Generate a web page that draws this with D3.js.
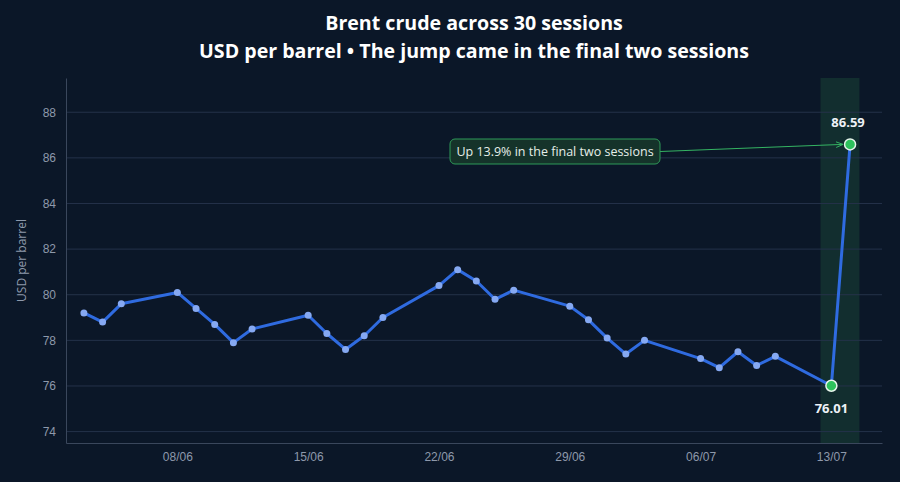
<!DOCTYPE html>
<html lang="en">
<head>
<meta charset="utf-8">
<title>Brent crude</title>
<script src="https://cdn.jsdelivr.net/npm/d3@7"></script>
<style>
  html, body { margin: 0; padding: 0; background: #0b1728; }
  svg { display: block; font-family: "Open Sans", "Noto Sans", sans-serif; }
</style>
</head>
<body>
<div id="chart"></div>
<script>

// session dates (dd/mm/yyyy) and closing prices
var dates = [
  "03/06/2026","04/06/2026","05/06/2026",
  "08/06/2026","09/06/2026","10/06/2026","11/06/2026","12/06/2026",
  "15/06/2026","16/06/2026","17/06/2026","18/06/2026","19/06/2026",
  "22/06/2026","23/06/2026","24/06/2026","25/06/2026","26/06/2026",
  "29/06/2026","30/06/2026","01/07/2026","02/07/2026","03/07/2026",
  "06/07/2026","07/07/2026","08/07/2026","09/07/2026","10/07/2026",
  "13/07/2026","14/07/2026"
];
var prices = [
  79.2, 78.8, 79.6,
  80.1, 79.4, 78.7, 77.9, 78.5,
  79.1, 78.3, 77.6, 78.2, 79.0,
  80.4, 81.1, 80.6, 79.8, 80.2,
  79.5, 78.9, 78.1, 77.4, 78.0,
  77.2, 76.8, 77.5, 76.9, 77.3,
  76.01, 86.59
];
var yTicks = [74, 76, 78, 80, 82, 84, 86, 88];
var xTicks = ["08/06/2026", "15/06/2026", "22/06/2026", "29/06/2026", "06/07/2026", "13/07/2026"];
var annotationText = "Up 13.9% in the final two sessions";

var W = 900, H = 482;
var margin = {top: 78, right: 18, bottom: 39, left: 66};
var width = W - margin.left - margin.right,
    height = H - margin.top - margin.bottom;

var parse = d3.timeParse("%d/%m/%Y");
var data = dates.map(function(d, i) { return {date: parse(d), price: prices[i]}; });

var svg = d3.select("#chart").append("svg")
    .attr("width", W).attr("height", H);

svg.append("rect").attr("width", W).attr("height", H).attr("fill", "#0b1728");

var g = svg.append("g")
    .attr("transform", "translate(" + margin.left + "," + margin.top + ")");

// scales
var first = data[0].date, last = data[data.length - 1].date;
var x = d3.scaleTime()
    .domain([d3.timeHour.offset(first, -23), d3.timeHour.offset(last, 41)])
    .range([0, width]);
var y = d3.scaleLinear()
    .domain([73.5, 89.5])
    .range([height, 0]);

// highlight band over the last two sessions
var a = data[data.length - 2], b = data[data.length - 1];
g.append("rect")
    .attr("x", x(d3.timeHour.offset(a.date, -14)))
    .attr("y", 0)
    .attr("width", x(d3.timeHour.offset(b.date, 12)) - x(d3.timeHour.offset(a.date, -14)))
    .attr("height", height)
    .attr("fill", "#1f5a3c")
    .attr("fill-opacity", 0.35);

// gridlines
g.append("g")
  .selectAll("line")
  .data(yTicks)
  .enter().append("line")
    .attr("x1", 0).attr("x2", width)
    .attr("y1", function(d) { return y(d); })
    .attr("y2", function(d) { return y(d); })
    .attr("stroke", "#24324a")
    .attr("stroke-width", 1);

// y axis
var yAxis = g.append("g")
    .call(d3.axisLeft(y).tickValues(yTicks).tickSize(0).tickPadding(10));
yAxis.select(".domain").attr("stroke", "#3a475c");
yAxis.selectAll("text").attr("fill", "#8e99ab").style("font-size", "12px");

// x axis
var xAxis = g.append("g")
    .attr("transform", "translate(0," + height + ")")
    .call(d3.axisBottom(x).tickValues(xTicks.map(parse)).tickFormat(d3.timeFormat("%d/%m")).tickSize(0).tickPadding(9));
xAxis.select(".domain").attr("stroke", "#3a475c");
xAxis.selectAll("text").attr("fill", "#8e99ab").style("font-size", "12px");

// y label
svg.append("text")
    .attr("transform", "translate(26," + (margin.top + height / 2) + ") rotate(-90)")
    .attr("text-anchor", "middle")
    .attr("fill", "#8e99ab")
    .style("font-size", "12px")
    .text("USD per barrel");

// line
var line = d3.line()
    .x(function(d) { return x(d.date); })
    .y(function(d) { return y(d.price); });

g.append("path")
    .datum(data)
    .attr("d", line)
    .attr("fill", "none")
    .attr("stroke", "#2f6be0")
    .attr("stroke-width", 3)
    .attr("stroke-linejoin", "round");

g.append("g")
  .selectAll("circle")
  .data(data.slice(0, data.length - 2))
  .enter().append("circle")
    .attr("cx", function(d) { return x(d.date); })
    .attr("cy", function(d) { return y(d.price); })
    .attr("r", 3.5)
    .attr("fill", "#86a9f2");

// annotation arrow + box
svg.append("defs").append("marker")
    .attr("id", "arrow")
    .attr("viewBox", "0 0 10 10")
    .attr("refX", 10).attr("refY", 5)
    .attr("markerWidth", 7).attr("markerHeight", 7)
    .attr("orient", "auto")
  .append("path")
    .attr("d", "M0,1 L10,5 L0,9")
    .attr("fill", "none")
    .attr("stroke", "#35b463")
    .attr("stroke-width", 1.4);

var boxX = 450 - margin.left, boxY = 139 - margin.top, boxW = 210, boxH = 25;
g.append("line")
    .attr("x1", boxX + boxW).attr("y1", boxY + boxH / 2)
    .attr("x2", x(b.date) - 7).attr("y2", y(b.price))
    .attr("stroke", "#35b463")
    .attr("stroke-width", 1)
    .attr("marker-end", "url(#arrow)");

g.append("rect")
    .attr("x", boxX).attr("y", boxY)
    .attr("width", boxW).attr("height", boxH)
    .attr("rx", 5)
    .attr("fill", "#15332a")
    .attr("stroke", "#2f9a58")
    .attr("stroke-width", 1);
g.append("text")
    .attr("x", boxX + boxW / 2).attr("y", boxY + boxH / 2)
    .attr("text-anchor", "middle")
    .attr("dominant-baseline", "central")
    .attr("fill", "#e6efe9")
    .style("font-size", "12.5px")
    .text(annotationText);

// highlighted points
g.append("g")
  .selectAll("circle")
  .data([a, b])
  .enter().append("circle")
    .attr("cx", function(d) { return x(d.date); })
    .attr("cy", function(d) { return y(d.price); })
    .attr("r", 5.5)
    .attr("fill", "#2ec25c")
    .attr("stroke", "#e8f5ec")
    .attr("stroke-width", 1.5);

g.append("text")
    .attr("x", x(b.date) - 2).attr("y", y(b.price) - 17)
    .attr("text-anchor", "middle")
    .attr("fill", "#eef2f7")
    .style("font-size", "13px").style("font-weight", "bold")
    .text(b.price.toFixed(2));
g.append("text")
    .attr("x", x(a.date)).attr("y", y(a.price) + 27)
    .attr("text-anchor", "middle")
    .attr("fill", "#eef2f7")
    .style("font-size", "13px").style("font-weight", "bold")
    .text(a.price.toFixed(2));

// title
var cx = margin.left + width / 2;
svg.append("text")
    .attr("x", cx).attr("y", 30)
    .attr("text-anchor", "middle")
    .attr("fill", "#ffffff")
    .style("font-size", "19.6px").style("font-weight", "bold")
    .text("Brent crude across 30 sessions");
svg.append("text")
    .attr("x", cx).attr("y", 58)
    .attr("text-anchor", "middle")
    .attr("fill", "#ffffff")
    .style("font-size", "19.6px").style("font-weight", "bold")
    .text("USD per barrel \u2022 The jump came in the final two sessions");

</script>
</body>
</html>
